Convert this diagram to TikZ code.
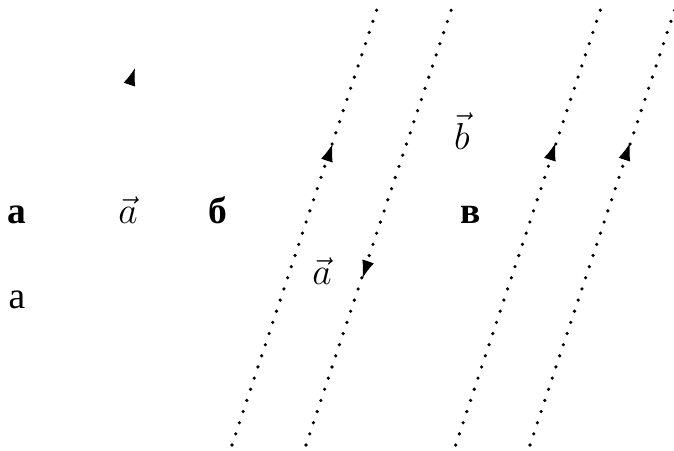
\documentclass[tikz,border=0pt]{standalone}
\usepackage{fontspec}
\newfontfamily\cyr{Liberation Serif}
\usetikzlibrary{arrows.meta}
\begin{document}
\begin{tikzpicture}[x=0.32pt,y=-0.32pt,
  dotline/.style={line width=1.15pt,line cap=round,dash pattern=on 0pt off 3.76pt},
  arr/.style={line width=0.3pt,-{Latex[length=5.6pt,width=3.9pt]}},
  lbl/.style={inner sep=0pt,anchor=base,font=\fontsize{12}{14}\selectfont}]
\useasboundingbox (0,0) rectangle (674,450);
% line end points
\coordinate (l1b) at (232,445); \coordinate (l1t) at (377,9);
\coordinate (l2b) at (306,445); \coordinate (l2t) at (451.5,9);
\coordinate (l3b) at (455.7,445); \coordinate (l3t) at (600.7,9);
\coordinate (l4b) at (530,445); \coordinate (l4t) at (675,9);
\begin{scope}
\clip (0,0) rectangle (674,450);
\draw[dotline] (l1b) -- (l1t);
\draw[dotline] (l2b) -- (l2t);
\draw[dotline] (l3b) -- (l3t);
\draw[dotline] (l4b) -- (l4t);
\end{scope}
% arrowheads
\coordinate (a0b) at (131.8,77.5); \coordinate (a0t) at (135,68);
\coordinate (a1b) at (329.3,153.5); \coordinate (a1t) at (332.5,144);
\coordinate (a2b) at (365.7,268.5); \coordinate (a2t) at (362.5,278);
\coordinate (a3b) at (552.3,152.5); \coordinate (a3t) at (555.5,143);
\coordinate (a4b) at (626.8,152.5); \coordinate (a4t) at (630,143);
\draw[arr] (a0b) -- (a0t);
\draw[arr] (a1b) -- (a1t);
\draw[arr] (a2b) -- (a2t);
\draw[arr] (a3b) -- (a3t);
\draw[arr] (a4b) -- (a4t);
% labels
\node[lbl] (la) at (17,223) {\cyr\bfseries а};
\node[lbl] (va1) at (128,223) {$\vec{a}$};
\node[lbl] (lb) at (218,223) {\cyr\bfseries б};
\node[lbl] (lv) at (471,223) {\cyr\bfseries в};
\node[lbl] (vb) at (462,149) {$\vec{b}$};
\node[lbl] (va2) at (322,284) {$\vec{a}$};
\node[lbl] (la2) at (17,308) {\cyr а};
\end{tikzpicture}
\end{document}
